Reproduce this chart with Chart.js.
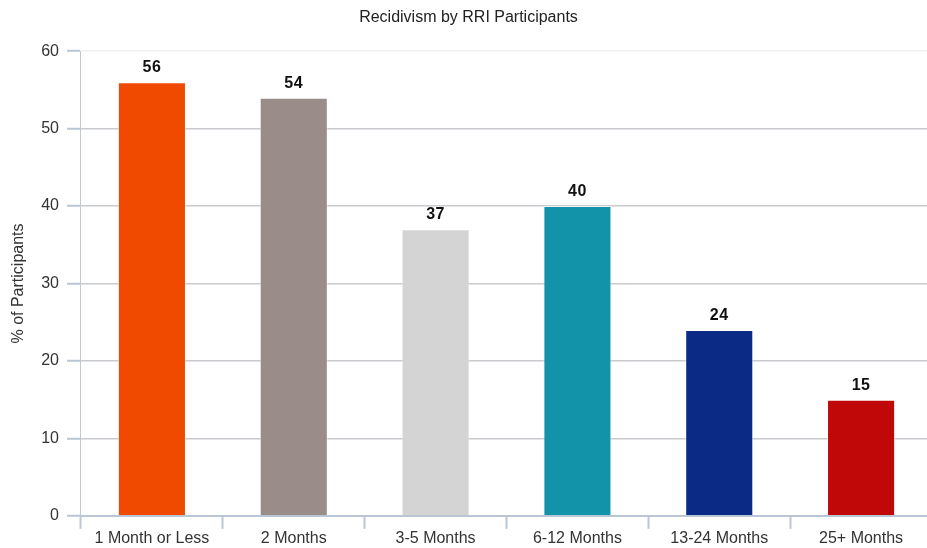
<!DOCTYPE html>
<html>
<head>
<meta charset="utf-8">
<script src="https://cdn.jsdelivr.net/npm/chart.js@4.4.1/dist/chart.umd.min.js"></script>
<style>
  html,body{margin:0;padding:0;background:#fff;overflow:hidden}
  #wrap{width:938px;height:548px;position:relative}
</style>
</head>
<body>
<div id="wrap"><canvas id="ch"></canvas></div>
<script>
// datos
const categorias = ['1 Month or Less','2 Months','3-5 Months','6-12 Months','13-24 Months','25+ Months'];
const porcentajes = [56, 54, 37, 40, 24, 15];
const colores = ['#F04A00','#9A8C88','#D4D4D4','#1393A9','#0A2A85','#C00808'];
const ticksY = [0, 10, 20, 30, 40, 50, 60];

const FONT = "'Liberation Sans', Arial, sans-serif";

/* etiquetas sobre las barras (sin plugin externo) */
const etiquetas = {
  id:'etiquetas',
  afterDatasetsDraw(chart){
    const {ctx} = chart;
    const meta = chart.getDatasetMeta(0);
    ctx.save();
    ctx.font = `bold 16px ${FONT}`;
    ctx.fillStyle = '#111';
    ctx.textAlign = 'center';
    ctx.textBaseline = 'alphabetic';
    if('letterSpacing' in ctx) ctx.letterSpacing = '0.5px';
    meta.data.forEach((bar,i)=>{
      ctx.fillText(String(porcentajes[i]), bar.x, bar.y - 10);
    });
    ctx.restore();
  }
};

new Chart(document.getElementById('ch'),{
  type:'bar',
  data:{labels:categorias,datasets:[{
    data:porcentajes,
    backgroundColor:colores,
    borderColor:'rgba(255,255,255,0.6)',
    borderWidth:1,
    barPercentage:0.48,
    categoryPercentage:1
  }]},
  options:{
    responsive:true,
    maintainAspectRatio:false,
    animation:false,
    layout:{padding:{left:5,right:6,top:0,bottom:0}},
    plugins:{
      legend:{display:false},
      tooltip:{enabled:false},
      title:{display:true,text:'Recidivism by RRI Participants',color:'#222',
        font:{family:FONT,size:16,weight:'normal'},padding:{top:8,bottom:24}}
    },
    scales:{
      y:{
        min:0,max:60,
        afterBuildTicks:s=>{s.ticks = ticksY.map(v=>({value:v}));},
        title:{display:true,text:'% of Participants',color:'#333',font:{family:FONT,size:16},padding:{bottom:5}},
        ticks:{color:'#333',font:{family:FONT,size:16},padding:8},
        grid:{
          color:c=>c.tick && c.tick.value===60 ? '#f0f0f0' : (c.tick && c.tick.value===0 ? 'rgba(0,0,0,0)' : '#c8cacd'),
          tickColor:'#b9c6d6',tickLength:14,lineWidth:1.5,tickWidth:2
        },
        border:{color:'#c3c8d0',width:1}
      },
      x:{
        ticks:{color:'#333',font:{family:FONT,size:16},padding:0},
        grid:{drawOnChartArea:false,drawTicks:true,tickLength:13,tickColor:'#b9c6d6',tickWidth:2,offset:true},
        border:{color:'#b9c6d6',width:2}
      }
    }
  },
  plugins:[etiquetas]
});
</script>
</body>
</html>
